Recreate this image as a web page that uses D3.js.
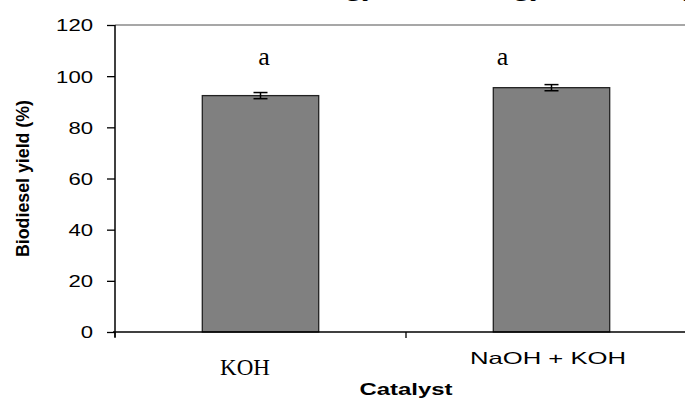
<!DOCTYPE html>
<html>
<head>
<meta charset="utf-8">
<script src="https://cdn.jsdelivr.net/npm/d3@7"></script>
<style>
  body { margin: 0; background: #fff; }
  svg { display: block; }
</style>
</head>
<body>
<svg id="chart" width="685" height="398"></svg>
<script>
// values
const categories = ["KOH", "NaOH + KOH"];
const yieldValues = [92.4, 95.5];
const errorValues = [1.2, 1.2];
const letters = ["a", "a"];
const yTicks = [0, 20, 40, 60, 80, 100, 120];

const sans = "'Liberation Sans', Arial, sans-serif";
const serif = "'Liberation Serif', 'Times New Roman', serif";

const svg = d3.select("#chart");

// plot runs past the right edge of the picture (cropped figure)
const x = d3.scaleBand().domain(categories).range([115, 697]);
const y = d3.scaleLinear().domain([0, 120]).range([332, 25]);
const barW = x.bandwidth() * 0.4;
const cx = d => x(d) + x.bandwidth() / 2;

// cropped caption line at the very top: only its descenders show
svg.append("text")
    .attr("x", 700).attr("y", -6)
    .attr("text-anchor", "end")
    .style("font-family", serif).style("font-size", "34px")
    .text("Journal of Energy Technology and Policy");

// plot frame top line
svg.append("line")
    .attr("x1", x.range()[0]).attr("x2", x.range()[1])
    .attr("y1", y(120)).attr("y2", y(120))
    .attr("stroke", "#8a8a8a").attr("stroke-width", 1.5);

// bars
svg.selectAll(".bar").data(categories).enter().append("rect")
    .attr("class", "bar")
    .attr("x", d => cx(d) - barW / 2)
    .attr("width", barW)
    .attr("y", (d, i) => y(yieldValues[i]))
    .attr("height", (d, i) => y(0) - y(yieldValues[i]))
    .attr("fill", "#808080")
    .attr("stroke", "#222").attr("stroke-width", 1.3);

// error bars
const err = svg.selectAll(".err").data(categories).enter().append("g")
    .attr("class", "err")
    .attr("stroke", "#000").attr("stroke-width", 1.5);
err.append("line")
    .attr("x1", d => cx(d)).attr("x2", d => cx(d))
    .attr("y1", (d, i) => y(yieldValues[i] + errorValues[i]))
    .attr("y2", (d, i) => y(yieldValues[i] - errorValues[i]));
err.append("line")
    .attr("x1", d => cx(d) - 7).attr("x2", d => cx(d) + 7)
    .attr("y1", (d, i) => y(yieldValues[i] + errorValues[i]))
    .attr("y2", (d, i) => y(yieldValues[i] + errorValues[i]));
err.append("line")
    .attr("x1", d => cx(d) - 7).attr("x2", d => cx(d) + 7)
    .attr("y1", (d, i) => y(yieldValues[i] - errorValues[i]))
    .attr("y2", (d, i) => y(yieldValues[i] - errorValues[i]));

// significance letters (not quite centred in the original)
const letterDx = [3.5, -49];
svg.selectAll(".letter").data(categories).enter().append("text")
    .attr("class", "letter")
    .attr("x", (d, i) => cx(d) + letterDx[i])
    .attr("y", 65)
    .attr("text-anchor", "middle")
    .style("font-family", serif).style("font-size", "26px")
    .text((d, i) => letters[i]);

// y axis
const yAxis = svg.append("g")
    .attr("transform", "translate(" + x.range()[0] + ",0)")
    .call(d3.axisLeft(y).tickValues(yTicks).tickSize(8).tickPadding(14).tickSizeOuter(0));
yAxis.select(".domain").attr("stroke", "#000").attr("stroke-width", 1.5)
    .attr("d", "M0," + y(120) + "V" + (y(0) + 5));
yAxis.selectAll(".tick line").attr("stroke", "#000").attr("stroke-width", 1.3);
yAxis.selectAll(".tick text")
    .style("font-family", sans).style("font-size", "16.5px").attr("fill", "#000")
    .attr("dy", "0.36em")
    .attr("textLength", d => String(d).length * 12.3)
    .attr("lengthAdjust", "spacingAndGlyphs");

// x axis: line plus ticks on the category boundaries
svg.append("line")
    .attr("x1", x.range()[0] - 2).attr("x2", x.range()[1])
    .attr("y1", y(0)).attr("y2", y(0))
    .attr("stroke", "#000").attr("stroke-width", 1.5);
const bounds = categories.map(d => x(d)).concat([x.range()[1]]);
svg.selectAll(".xtick").data(bounds).enter().append("line")
    .attr("x1", d => d).attr("x2", d => d)
    .attr("y1", y(0)).attr("y2", y(0) + 6)
    .attr("stroke", "#000").attr("stroke-width", 1.3);

// category labels: the first one is set in a serif face in the original
const catStyle = [
  { dx: -15.5, y: 375, font: serif, size: "23px", len: null },
  { dx: -3.5, y: 364, font: sans, size: "16.5px", len: 156 }
];
svg.selectAll(".cat").data(categories).enter().append("text")
    .attr("class", "cat")
    .attr("x", (d, i) => cx(d) + catStyle[i].dx)
    .attr("y", (d, i) => catStyle[i].y)
    .attr("text-anchor", "middle")
    .style("font-family", (d, i) => catStyle[i].font)
    .style("font-size", (d, i) => catStyle[i].size)
    .each(function(d, i) {
      if (catStyle[i].len) {
        d3.select(this).attr("textLength", catStyle[i].len).attr("lengthAdjust", "spacingAndGlyphs");
      }
    })
    .text(d => d);

// axis titles
svg.append("text")
    .attr("x", (x.range()[0] + x.range()[1]) / 2).attr("y", 395)
    .attr("text-anchor", "middle")
    .style("font-family", sans).style("font-size", "17px").style("font-weight", "bold")
    .attr("textLength", 93).attr("lengthAdjust", "spacingAndGlyphs")
    .text("Catalyst");

svg.append("text")
    .attr("transform", "translate(29,178.5) rotate(-90)")
    .attr("text-anchor", "middle")
    .style("font-family", sans).style("font-size", "18px").style("font-weight", "bold")
    .attr("textLength", 157).attr("lengthAdjust", "spacingAndGlyphs")
    .text("Biodiesel yield (%)");
</script>
</body>
</html>
